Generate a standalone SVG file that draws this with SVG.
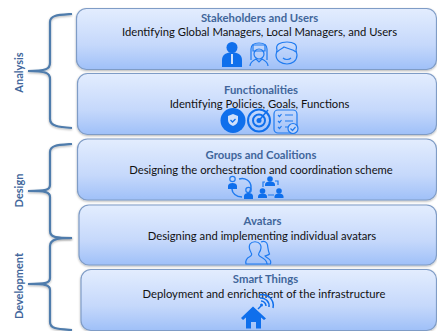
<svg xmlns="http://www.w3.org/2000/svg" width="437" height="331" viewBox="0 0 437 331">
<style>
.box{fill:url(#g);stroke:#7f9cc6;stroke-width:1.2}
.t{font-family:Lato,"Open Sans",sans-serif;font-size:11.25px;fill:#111;text-anchor:middle}
.h{font-family:Lato,"Open Sans",sans-serif;font-size:11.3px;font-weight:700;fill:#41669b;text-anchor:middle}
.p{font-family:Lato,"Open Sans",sans-serif;font-size:11px;font-weight:700;fill:#41669b;text-anchor:middle}
.br{fill:none;stroke:#4f7cac;stroke-width:2.2}
.sf{fill:#0f6fec}
.so{fill:none;stroke:#1f7bf0;stroke-width:1.2}
.sb{fill:none;stroke:#0f6fec;stroke-width:2}
</style>
<defs>
<linearGradient id="g" x1="0" y1="0" x2="0" y2="1">
<stop offset="0" stop-color="#e3edfe"/><stop offset=".6" stop-color="#c5d8fb"/><stop offset="1" stop-color="#9fc0f8"/>
</linearGradient>
<filter id="s" x="-5%" y="-10%" width="110%" height="125%"><feDropShadow dx="0" dy="1" stdDeviation="1" flood-color="#000" flood-opacity=".3"/></filter>
</defs>
<g id="connectors">
<path class="br" filter="url(#s)" d="M72 14C58 15 50 15 50 22V63C50 69 46 71 28 71C46 71 50 73 50 79V119C50 126 58 127 72 128"/>
<path class="br" filter="url(#s)" d="M72 144C58 145 50 145 50 152V185C50 190 46 191 28 191C46 191 50 192 50 197V231C50 238 58 238 72 238"/>
<path class="br" filter="url(#s)" d="M72 238C58 238 50 239 50 246V278C50 283 46 284 28 284C46 284 50 285 50 290V322C50 329 58 329 72 330"/>
</g>
<g id="analysis"><text class="p" transform="translate(23 72.500) rotate(-90)">Analysis</text></g>
<g id="design"><text class="p" transform="translate(23 190.500) rotate(-90)">Design</text></g>
<g id="development"><text class="p" transform="translate(23 286) rotate(-90)">Development</text></g>
<g id="stakeholders">
<rect class="box" filter="url(#s)" x="76.5" y="8.5" width="360" height="61" rx="10"/>
<text class="h" x="259.500" y="21.5">Stakeholders and Users</text>
<text class="t" x="259.5" y="36">Identifying Global Managers, Local Managers, and Users</text>
<circle class="sf" cx="232" cy="47.500" r="5.500"/>
<path class="sf" d="M222 67V60C222 55 226 53 229.5 52.5H234.500C238 53 242 55 242 60V67Z"/>
<path d="M231 54h2v10h-2z" fill="#cfe0fb"/>
<g class="so"><path d="M251 60V49C251 44 255 43 259 43S267 44 267 49V60"/><path d="M253 45h12v6h-12z"/><circle cx="259" cy="54" r="5"/><path d="M250 66C250 62 254 60 256 59L259 62L262 59C264 60 268 62 268 66"/></g>
<g class="so"><path d="M277 50C275 44 281 42 287 42S298 44 296 50L297 55C297 61 292 64 287 64S276 61 276 55Z"/><path d="M277 52C280 49 283 48 284 47C288 49 293 49 296 52"/><path d="M283 58C285 60 289 60 291 58"/></g>
</g>
<g id="functionalities">
<rect class="box" filter="url(#s)" x="77.5" y="73.500" width="359" height="61" rx="10"/>
<text class="h" x="261" y="93.500">Functionalities</text>
<text class="t" x="259.500" y="108">Identifying Policies, Goals, Functions</text>
<circle class="sf" cx="233" cy="120.500" r="12.500"/>
<path d="M233 114l5 2v4c0 3-2 5-5 6c-3-1-5-3-5-6v-4z" fill="#cfe0fb"/>
<path d="M230.500 120l2 2l3-3" fill="none" stroke="#0f6fec" stroke-width="1.300"/>
<circle class="sb" cx="259" cy="120.500" r="11"/>
<circle class="sb" cx="259" cy="120.500" r="6"/>
<circle class="sf" cx="259" cy="120.500" r="2.500"/>
<path d="M259 120.500L268 110" stroke="#0f6fec" stroke-width="1.500"/>
<g class="so"><rect x="274" y="110" width="23" height="23" rx="4"/><path d="M278 115l1.500 1.500l2-2.500M278 121l1.500 1.500l2-2.500M278 127l1.500 1.500l2-2.500M285 115h8M285 121h8M285 127h4"/><circle cx="293" cy="128.500" r="5" fill="#c0d5fa"/><path d="M290.500 128.500l2 2l3-3.500"/></g>
</g>
<g id="groups">
<rect class="box" filter="url(#s)" x="77.500" y="139" width="359" height="61" rx="10"/>
<text class="h" x="261" y="159">Groups and Coalitions</text>
<text class="t" x="261" y="173.500">Designing the orchestration and coordination scheme</text>
<path class="so" d="M239 179C245 177 251 181 251 187C251 190 249 193 247 195M242 197C236 197 232 193 232 189" style="stroke-width:1.500"/>
<circle class="so" cx="232.500" cy="179" r="2.700"/><path class="sf" d="M228 189v-3c0-2 2-3 4.500-3s4.500 1 4.500 3v3z"/>
<circle class="so" cx="248.500" cy="190" r="2.700"/><path class="sf" d="M244 199v-3c0-2 2-3 4.500-3s4.500 1 4.500 3v3z"/>
<g class="sf"><circle cx="270" cy="179" r="2.800"/><path d="M265 186v-1.500c0-2 2-3 5-3s5 1 5 3v1.500z"/><circle cx="262.500" cy="191" r="2.800"/><path d="M258 198v-1.500c0-2 2-3 4.500-3s4.500 1 4.500 3v1.500z"/><circle cx="279" cy="191" r="2.800"/><path d="M274.500 198v-1.500c0-2 2-3 4.500-3s4.500 1 4.500 3v1.500z"/></g>
<path class="so" d="M263 187v-5h2M275 181h3v4M268 195h6"/>
</g>
<g id="avatars">
<rect class="box" filter="url(#s)" x="79" y="205" width="357.500" height="60" rx="10"/>
<text class="h" x="262.500" y="225">Avatars</text>
<text class="t" x="262" y="240">Designing and implementing individual avatars</text>
<g class="so"><path d="M246 264C245 260 247 258 250 256.500C252 255.500 252 254 251 252.500C249 249 249 246 250 244C252 241 258 241 260 244C262 247 261 250 259 253C258 254.500 259 256 261 257C264 258.500 267 260 267 264Z"/><path d="M261 242C264 240.500 267 242 267.500 245C268 248 268 251 269.500 254C268 255.500 266 255.500 265 256C266 258 270 258.500 270.500 261C271 263 270.500 264 270 264H267"/></g>
</g>
<g id="smart">
<rect class="box" filter="url(#s)" x="81" y="269.500" width="355.500" height="61" rx="10"/>
<text class="h" x="265.500" y="282.500">Smart Things</text>
<text class="t" x="264" y="297.500">Deployment and enrichment of the infrastructure</text>
<path class="sf" d="M241 318L253 306.500L266 318.500L264 320L261 317.500V328.500H256V322H251V328.500H246V317.500L243 320Z"/>
<path d="M258 309L261 306" stroke="#0f6fec" stroke-width="1.500"/><circle class="sf" cx="261.500" cy="305" r="1.500"/>
<g fill="none" stroke="#0f6fec" stroke-width="1.500"><path d="M261 301a5 5 0 0 1 5 5"/><path d="M260 298a8 8 0 0 1 9 9"/><path d="M259 295a11 11 0 0 1 14 13"/></g>
</g>
</svg>
